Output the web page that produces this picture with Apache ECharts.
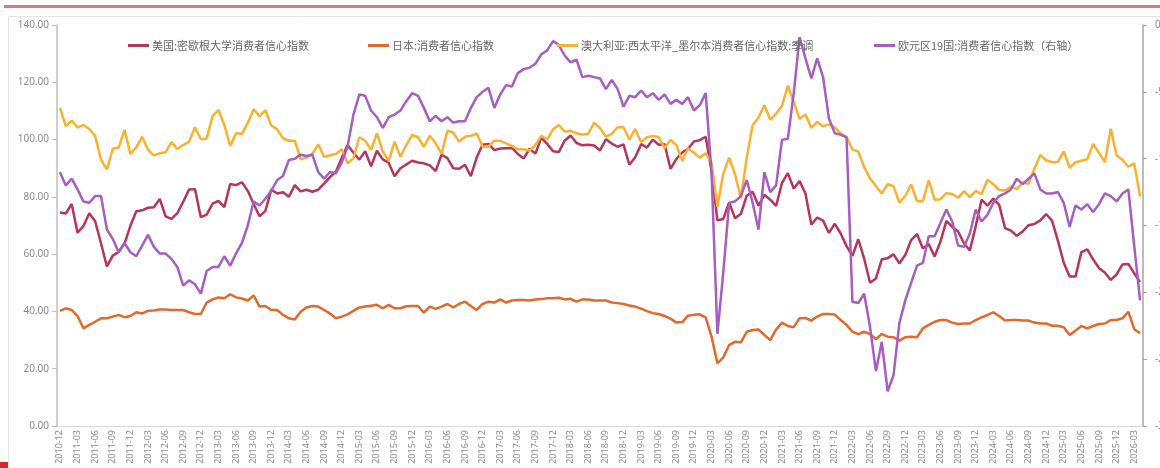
<!DOCTYPE html>
<html>
<head>
<meta charset="utf-8">
<script src="https://cdn.jsdelivr.net/npm/echarts@6/dist/echarts.min.js"></script>
<style>
  html,body{margin:0;padding:0;background:#fff;}
  #main{width:1160px;height:468px;}
</style>
</head>
<body>
<div id="main"></div>
<script>
// months 2010-12 .. 2026-04
var months = [];
(function(){
  var y = 2010, m = 12;
  while (y < 2026 || (y === 2026 && m <= 4)) {
    months.push(y + '-' + (m < 10 ? '0' + m : m));
    m++; if (m > 12) { m = 1; y++; }
  }
})();

var names = ['美国:密歇根大学消费者信心指数', '日本:消费者信心指数', '澳大利亚:西太平洋_墨尔本消费者信心指数:季调', '欧元区19国:消费者信心指数（右轴）'];

var usData = [74.5,
  74.2,77.5,67.5,69.8,74.3,71.5,63.7,55.7,59.5,60.8,63.7,69.9,
  75.0,75.3,76.2,76.4,79.3,73.2,72.3,74.3,78.3,82.6,82.7,72.9,
  73.8,77.6,78.6,76.4,84.5,84.1,85.1,82.1,77.5,73.2,75.1,82.5,
  81.2,81.6,80.0,84.1,81.9,82.5,81.8,82.5,84.6,86.9,88.8,93.6,
  98.1,95.4,93.0,95.9,90.7,96.1,93.1,91.9,87.2,90.0,91.3,92.6,
  92.0,91.7,91.0,89.0,94.7,93.5,90.0,89.8,91.2,87.2,93.8,98.2,
  98.5,96.3,96.9,97.0,97.1,95.0,93.4,96.8,95.1,100.7,98.5,95.9,
  95.7,99.7,101.4,98.8,98.0,98.2,97.9,96.2,100.1,98.6,97.5,98.3,
  91.2,93.8,98.4,97.2,100.0,98.2,98.4,89.8,93.2,95.5,96.8,99.3,
  99.8,101.0,89.1,71.8,72.3,78.1,72.5,74.1,80.4,81.8,76.9,80.7,
  79.0,76.8,84.9,88.3,82.9,85.5,81.2,70.3,72.8,71.7,67.4,70.6,
  67.2,62.8,59.4,65.2,58.4,50.0,51.5,58.2,58.6,59.9,56.8,59.7,
  64.9,67.0,62.0,63.5,59.2,64.4,71.6,69.5,67.9,63.8,61.3,69.7,
  79.0,76.9,79.4,77.2,69.1,68.2,66.4,67.9,70.1,70.5,71.8,74.0,
  71.7,64.7,57.0,52.2,52.2,60.7,61.7,58.2,55.1,53.6,51.0,52.9,
  56.4,56.6,53.3,50.3];

var jpData = [
  40.2,41.1,40.5,38.4,34.1,35.3,36.4,37.6,37.6,38.2,
  38.8,38.0,38.4,39.7,39.3,40.2,40.3,40.7,40.7,40.5,
  40.5,40.5,39.7,39.1,39.1,43.1,44.2,44.9,44.6,46.0,
  44.9,44.5,43.8,45.6,41.7,41.9,40.5,40.5,38.8,37.6,
  37.2,39.9,41.4,41.9,41.7,40.5,39.3,37.6,38.2,39.0,
  40.2,41.4,41.7,42.0,42.3,41.1,42.3,41.1,41.1,41.8,
  41.9,41.9,39.6,41.7,40.9,41.7,42.6,41.4,42.6,43.4,
  41.9,40.5,42.6,43.4,43.1,44.2,43.1,43.8,44.0,44.0,
  43.8,44.2,44.3,44.6,44.6,44.8,44.2,44.4,43.4,44.2,
  44.2,43.8,43.8,43.8,43.1,42.9,42.6,42.1,41.7,41.0,
  40.1,39.4,39.1,38.4,37.5,36.1,36.3,38.5,38.8,39.0,
  37.9,31.2,21.9,24.0,28.3,29.4,29.2,32.9,33.5,33.7,
  31.8,30.0,33.7,36.1,34.9,34.5,37.6,37.7,36.8,38.2,
  39.1,39.1,38.9,37.0,35.3,32.9,32.1,32.9,32.1,30.3,
  32.1,31.2,31.0,29.8,31.0,31.2,31.0,34.1,35.3,36.4,
  37.0,37.0,36.1,35.6,35.8,35.8,37.0,37.9,38.8,39.7,
  38.4,36.8,37.0,37.0,36.8,36.8,36.1,35.8,35.8,35.0,
  35.0,34.5,31.8,33.3,34.9,34.1,34.9,35.6,35.8,37.0,
  37.0,37.6,39.9,33.8,32.4];

var auData = [
  111.1,104.7,106.6,104.2,105.1,103.7,101.3,92.9,89.6,96.8,
  97.2,103.4,95.0,97.3,101.0,96.4,94.5,95.2,95.6,99.1,
  96.7,98.1,99.3,104.3,100.1,100.4,108.2,110.3,105.1,97.8,
  102.2,102.0,105.9,110.6,108.2,110.3,104.9,103.6,100.4,99.6,
  99.6,93.1,93.7,95.0,98.3,94.0,94.5,95.0,96.6,91.7,
  93.5,100.8,99.6,96.4,102.2,95.8,92.6,99.3,94.0,98.1,
  101.6,100.8,97.5,101.3,98.7,95.0,103.1,102.4,99.3,101.0,
  101.3,102.2,97.5,97.5,99.6,99.6,98.7,97.8,96.6,96.6,
  96.1,98.1,101.3,100.1,103.6,105.1,102.8,103.1,102.2,101.8,
  102.0,105.9,104.0,101.0,102.0,104.3,104.3,100.0,103.7,99.1,
  100.8,101.3,100.8,97.0,99.9,98.1,92.6,97.0,95.4,93.7,
  95.2,91.9,76.5,88.1,93.7,87.9,79.5,93.8,105.0,107.7,
  112.0,107.0,109.1,111.8,118.8,113.1,107.2,108.8,104.1,106.2,
  104.6,105.3,104.3,102.2,100.8,96.6,95.8,90.4,86.4,83.8,
  81.2,84.4,83.7,78.0,80.3,84.3,78.5,78.5,85.8,79.0,
  79.2,81.3,81.0,79.7,82.0,79.9,82.1,81.0,86.0,84.4,
  82.4,82.2,83.6,82.7,85.0,84.6,89.8,94.6,92.8,92.1,
  92.2,95.9,90.1,92.1,92.6,93.1,98.5,95.4,92.1,103.8,
  94.5,92.9,90.5,91.7,80.1];

var euData = [
  -11.0,-12.0,-11.5,-12.3,-13.2,-13.3,-12.8,-12.8,-15.3,-16.0,
  -17.0,-16.3,-17.0,-17.3,-16.5,-15.7,-16.6,-17.1,-17.1,-17.5,
  -18.1,-19.5,-19.1,-19.4,-20.1,-18.4,-18.1,-18.1,-17.3,-18.0,
  -17.1,-16.3,-15.0,-13.2,-13.5,-13.0,-12.4,-11.6,-11.3,-10.1,
  -10.0,-9.7,-9.8,-9.7,-11.0,-11.5,-11.0,-11.1,-10.3,-9.1,
  -6.7,-5.2,-5.3,-6.4,-6.9,-7.7,-6.9,-6.7,-6.4,-5.7,
  -5.1,-5.3,-6.2,-7.2,-6.8,-7.2,-6.9,-7.3,-7.2,-7.2,
  -6.2,-5.4,-5.0,-4.7,-6.2,-5.2,-4.5,-4.6,-3.6,-3.3,
  -3.2,-2.9,-2.2,-1.9,-1.2,-1.5,-2.3,-2.8,-2.6,-3.9,
  -3.8,-3.9,-4.0,-4.8,-4.1,-4.8,-6.1,-5.3,-5.4,-4.9,
  -5.4,-5.1,-5.6,-5.2,-5.9,-5.6,-5.9,-5.4,-6.4,-6.0,
  -5.1,-11.0,-23.1,-18.5,-13.3,-13.2,-12.8,-11.6,-13.3,-15.3,
  -11.0,-12.5,-12.0,-8.6,-8.5,-5.1,-0.9,-2.5,-4.0,-2.5,
  -3.9,-7.0,-8.1,-8.2,-8.4,-20.7,-20.8,-20.1,-22.6,-25.9,
  -23.7,-27.4,-26.2,-22.3,-20.6,-19.3,-18.0,-17.8,-15.8,-15.8,
  -14.8,-13.8,-14.7,-16.5,-16.6,-15.6,-13.8,-14.7,-14.2,-13.3,
  -12.8,-12.6,-12.3,-11.5,-11.9,-11.5,-11.1,-12.3,-12.6,-12.6,
  -12.5,-13.3,-15.1,-13.5,-13.8,-13.4,-14.0,-13.4,-12.6,-12.8,
  -13.2,-12.6,-12.3,-16.5,-20.6];

var colors = ['#b5365b', '#e2692c', '#fbb130', '#a65ec0'];
var legendLeft = [128, 368, 557, 874];

var chart = echarts.init(document.getElementById('main'));

function legendAt(i){
  return {
    data: [names[i]],
    left: legendLeft[i],
    top: 40,
    padding: 0,
    icon: 'rect',
    itemWidth: 21,
    itemHeight: 3,
    itemGap: 4,
    textStyle: {color: '#666', fontSize: 11, fontFamily: 'Noto Sans CJK SC', padding: [0, 0, 0, -2]}
  };
}

function lineSeries(i, data, yIndex){
  return {
    name: names[i],
    type: 'line',
    yAxisIndex: yIndex,
    data: data,
    symbol: 'none',
    lineStyle: {width: 2.5, color: colors[i]},
    itemStyle: {color: colors[i]}
  };
}

var option = {
  animation: false,
  backgroundColor: '#fff',
  color: colors,
  graphic: [
    {type: 'rect', shape: {x: 4, y: 5, width: 1160, height: 3}, style: {fill: '#e07676'}},
    {type: 'rect', shape: {x: 8.5, y: 16.5, width: 1160, height: 470}, style: {fill: 'none', stroke: '#e4e4e4', lineWidth: 1}},
    {type: 'rect', shape: {x: 0, y: 462, width: 8, height: 6}, style: {fill: '#d8262d'}}
  ],
  legend: [legendAt(0), legendAt(1), legendAt(2), legendAt(3)],
  grid: {left: 57, right: 17, top: 25, bottom: 42, containLabel: false, outerBoundsMode: 'none'},
  xAxis: {
    type: 'category',
    data: months,
    boundaryGap: true,
    axisLine: {lineStyle: {color: '#d9d9d9', width: 1}},
    axisTick: {interval: 2, alignWithLabel: true, length: 4, lineStyle: {color: '#d9d9d9'}},
    axisLabel: {interval: 2, rotate: 90, fontSize: 9, color: '#8c8c8c', margin: 4, fontFamily: 'Liberation Sans Narrow, Noto Sans'}
  },
  yAxis: [
    {
      type: 'value',
      min: 0, max: 140, interval: 20,
      axisLine: {show: true, lineStyle: {color: '#bfbfbf', width: 1.5}},
      axisTick: {show: true, length: 5, lineStyle: {color: '#bfbfbf'}},
      splitLine: {show: false},
      axisLabel: {color: '#8c8c8c', fontSize: 10, margin: 8, fontFamily: 'Noto Sans',
        formatter: function(v){ return v.toFixed(2); }}
    },
    {
      type: 'value',
      position: 'right',
      min: -30, max: 0, interval: 5,
      axisLine: {show: true, lineStyle: {color: '#a6a6a6', width: 1.5}},
      axisTick: {show: true, length: 4, lineStyle: {color: '#a6a6a6'}},
      splitLine: {show: false},
      axisLabel: {color: '#8c8c8c', fontSize: 10, margin: 12, fontFamily: 'Noto Sans',
        formatter: function(v){ return v.toFixed(2); }}
    }
  ],
  series: [
    lineSeries(0, usData, 0),
    lineSeries(1, jpData, 0),
    lineSeries(2, auData, 0),
    lineSeries(3, euData, 1)
  ]
};
chart.setOption(option);
</script>
</body>
</html>
